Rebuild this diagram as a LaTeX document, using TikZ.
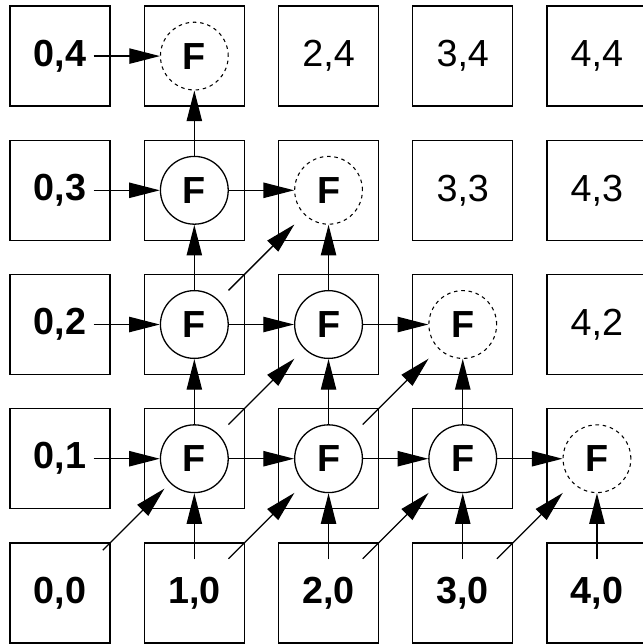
\documentclass[tikz,border=0pt]{standalone}
\usepackage{fontspec}
\setsansfont{Liberation Sans}
\usetikzlibrary{arrows.meta}

\begin{document}
\begin{tikzpicture}[line width=0.55pt,
  lbl/.style={font=\sffamily\fontsize{16}{19}\selectfont},
  bold/.style={font=\sffamily\bfseries\fontsize{16}{19}\selectfont},
  cell/.style={draw, lbl, minimum size=1.49cm, inner sep=0pt},
  fnode/.style={draw, circle, bold, minimum size=1.01cm, inner sep=0pt},
  fnext/.style={fnode, line width=0.45pt, dash pattern=on 1.5pt off 1.6pt},
  arr/.style={-{Triangle[length=13pt,width=6.5pt]}},
  diag/.style={arr, shorten <=0.72cm, shorten >=0.72cm}]
\useasboundingbox (-0.896,-0.761) rectangle (8.672,8.836);

% left column and bottom row
\foreach \j in {0,...,4}
  \node[cell, bold] (sq-0-\j) at (0,2*\j) {0,\j};
\foreach \i in {1,...,4}
  \node[cell, bold] (sq-\i-0) at (2*\i,0) {\i,0};

% cells never reached
\foreach \i/\j in {2/4,3/4,4/4,3/3,4/3,4/2}
  \node[cell] (sq-\i-\j) at (2*\i,2*\j) {\i,\j};

% F cells
\foreach \i/\j in {1/1,2/1,3/1,1/2,2/2,1/3} {
  \node[cell] (sq-\i-\j) at (2*\i,2*\j) {};
  \node[fnode] (f-\i-\j) at (sq-\i-\j) {F};
}
\foreach \i/\j in {4/1,3/2,2/3,1/4} {
  \node[cell] (sq-\i-\j) at (2*\i,2*\j) {};
  \node[fnext] (f-\i-\j) at (sq-\i-\j) {F};
}

% arrows from the borders
\foreach \j in {1,...,4}
  \draw[arr, shorten <=0.5cm] (sq-0-\j.center) -- (f-1-\j);
\foreach \i in {1,...,4}
  \draw[arr, shorten <=0.5cm] (sq-\i-0.center) -- (f-\i-1);

% right and up
\foreach \a/\b in {1-1/2-1, 2-1/3-1, 3-1/4-1, 1-2/2-2, 2-2/3-2, 1-3/2-3,
                   1-1/1-2, 1-2/1-3, 1-3/1-4, 2-1/2-2, 2-2/2-3, 3-1/3-2}
  \draw[arr] (f-\a) -- (f-\b);

% diagonals
\draw[diag, shorten <=0.9cm, shorten >=0.63cm] (sq-0-0.center) -- (f-1-1.center);
\foreach \a/\b in {sq-1-0/f-2-1, sq-2-0/f-3-1, sq-3-0/f-4-1,
                   f-1-1/f-2-2, f-2-1/f-3-2, f-1-2/f-2-3}
  \draw[diag] (\a.center) -- (\b.center);
\end{tikzpicture}
\end{document}
